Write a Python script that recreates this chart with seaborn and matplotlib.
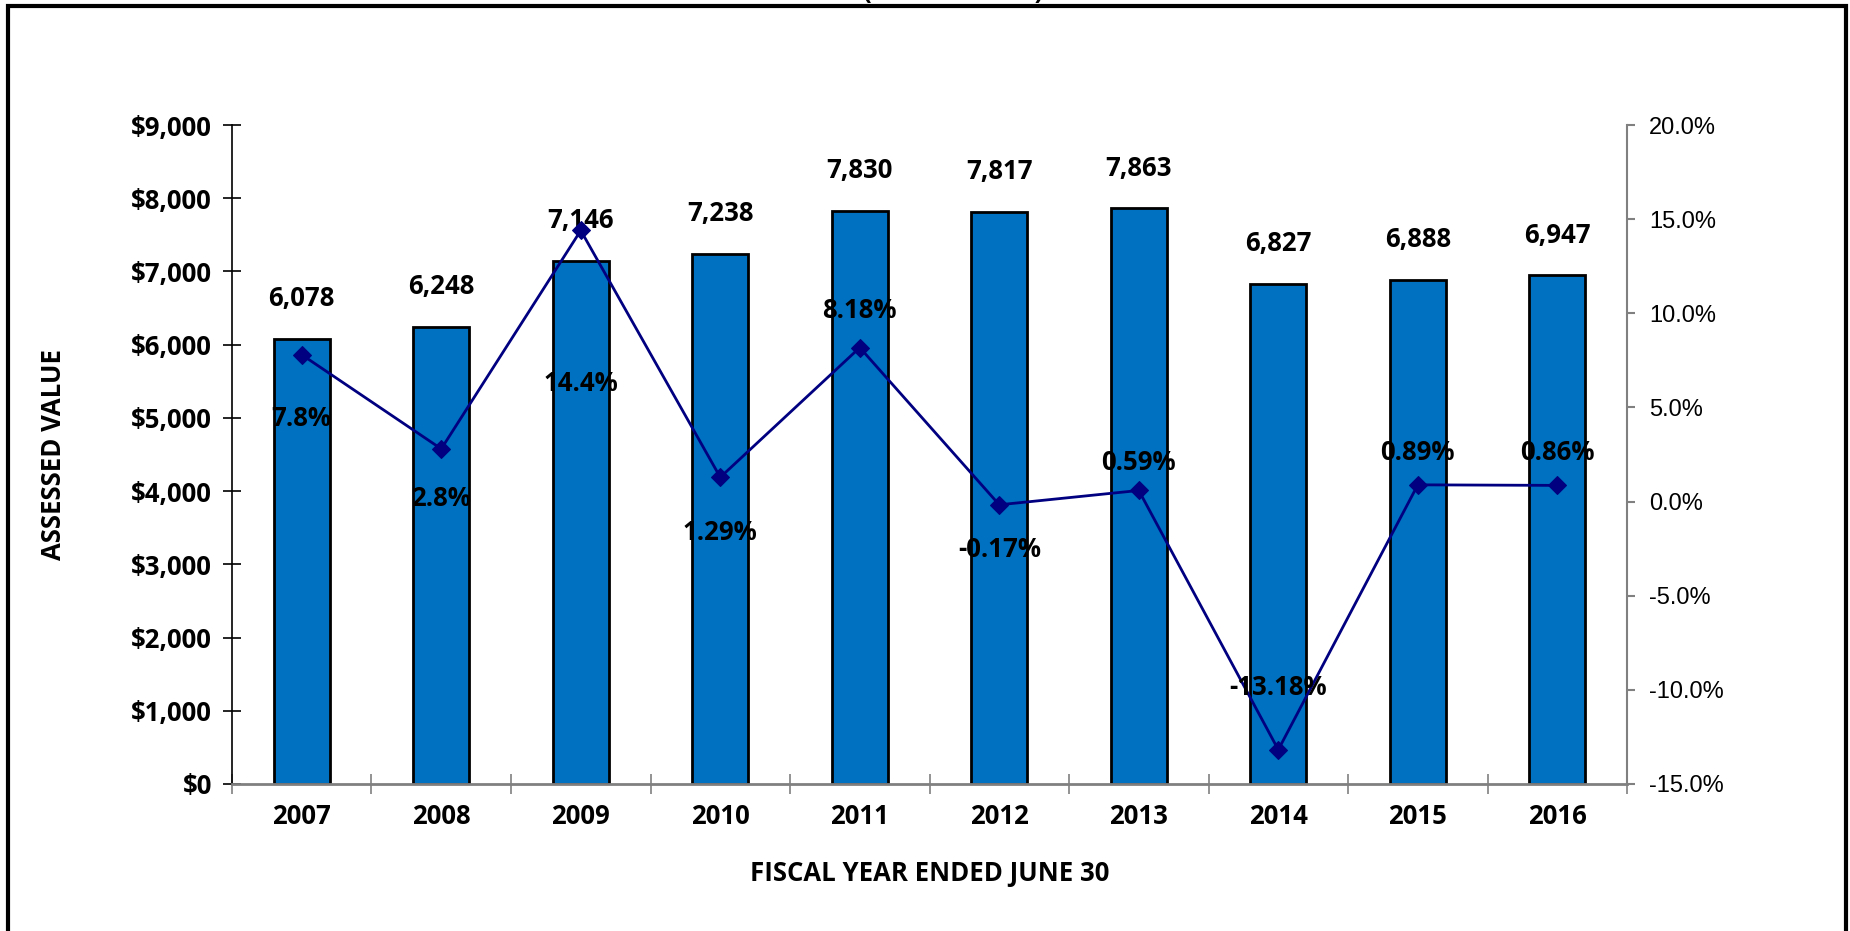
import numpy as np
import pandas as pd
import matplotlib
matplotlib.use("Agg")
import matplotlib.pyplot as plt
from matplotlib.patches import Rectangle
from matplotlib.ticker import FuncFormatter
import seaborn as sns

# Assessed value by fiscal year (in millions) and year-over-year change (%)
years = ["2007", "2008", "2009", "2010", "2011", "2012", "2013", "2014", "2015", "2016"]
assessed_value = [6078, 6248, 7146, 7238, 7830, 7817, 7863, 6827, 6888, 6947]
pct_change = [7.8, 2.8, 14.4, 1.29, 8.18, -0.17, 0.59, -13.18, 0.89, 0.86]
pct_labels = ["7.8%", "2.8%", "14.4%", "1.29%", "8.18%", "-0.17%", "0.59%", "-13.18%", "0.89%", "0.86%"]

# vertical placement of each percent label relative to its marker (points)
pct_label_offsets = [-46, -36, -110, -40, 27, -32, 20, 45, 23, 24]

sns.set_theme(style="white")
plt.rcParams["font.family"] = ["Open Sans", "DejaVu Sans"]
plt.rcParams.update({"text.color": "black", "axes.labelcolor": "black",
                     "xtick.color": "black", "ytick.color": "black"})

BAR_BLUE = "#0070C0"
LINE_NAVY = "#000080"
GRAY = "#808080"
FS = 18.5

fig = plt.figure(figsize=(18.5, 9.31), dpi=100)
ax = fig.add_axes([0.1254, 0.1579, 0.7541, 0.7078])

df = pd.DataFrame({"year": years, "value": assessed_value})
sns.barplot(data=df, x="year", y="value", ax=ax, color=BAR_BLUE, width=0.4,
            edgecolor="black", linewidth=2, saturation=1)

ax.set_xlim(-0.5, len(years) - 0.5)
ax.set_ylim(0, 9000)
ax.set_yticks(np.arange(0, 9001, 1000))
ax.yaxis.set_major_formatter(FuncFormatter(lambda v, _: f"${v:,.0f}"))

for s in ["top", "right"]:
    ax.spines[s].set_visible(False)
ax.spines["left"].set_color("black")
ax.spines["left"].set_linewidth(1.2)
ax.spines["bottom"].set_color(GRAY)
ax.spines["bottom"].set_linewidth(2)

ax.tick_params(axis="y", which="major", direction="inout", length=13, width=1.2,
               color="black", labelcolor="black", left=True, pad=8, labelsize=FS)
for lab in ax.get_yticklabels():
    lab.set_fontweight("bold")

ax.set_xticks(np.arange(len(years)))
ax.set_xticklabels(years, fontweight="bold", fontsize=FS)
ax.set_xticks(np.arange(-0.5, len(years), 1.0), minor=True)
ax.tick_params(axis="x", which="major", length=0, pad=14, labelcolor="black")
ax.tick_params(axis="x", which="minor", direction="inout", length=15, width=1.2,
               color=GRAY, bottom=True)

ax.set_xlabel("FISCAL YEAR ENDED JUNE 30", fontsize=FS, fontweight="bold", labelpad=21)
ax.set_ylabel("ASSESSED VALUE", fontsize=FS, fontweight="bold", labelpad=46)

# value labels above the bars
for i, v in enumerate(assessed_value):
    ax.annotate(f"{v:,}", (i, v), xytext=(0, 29), textcoords="offset points",
                ha="center", va="center", fontsize=FS, fontweight="bold")

# percent change on secondary axis
ax2 = ax.twinx()
sns.lineplot(x=np.arange(len(years)), y=pct_change, ax=ax2, color=LINE_NAVY,
             linewidth=2, marker="D", markersize=9, markeredgecolor=LINE_NAVY)
ax2.set_ylim(-15, 20)
ax2.set_xlim(-0.5, len(years) - 0.5)
ax2.set_yticks(np.arange(-15, 20.1, 5))
ax2.yaxis.set_major_formatter(FuncFormatter(lambda v, _: f"{v:.1f}%"))
for s in ["top", "left", "bottom"]:
    ax2.spines[s].set_visible(False)
ax2.spines["right"].set_color(GRAY)
ax2.spines["right"].set_linewidth(1.5)
ax2.tick_params(axis="y", direction="out", length=6, width=1.5, color=GRAY,
                labelcolor="black", right=True, pad=10, labelsize=17)
for lab in ax2.get_yticklabels():
    lab.set_fontfamily("Liberation Sans")
ax2.grid(False)
ax.grid(False)

for i, (p, txt, off) in enumerate(zip(pct_change, pct_labels, pct_label_offsets)):
    ax2.annotate(txt, (i, p), xytext=(0, off), textcoords="offset points",
                 ha="center", va="center", fontsize=FS, fontweight="bold")

# heading, mostly above the frame
fig.text(0.515, 1 + 2 / 931, "(IN MILLIONS)", ha="center", va="baseline",
         fontsize=FS, fontweight="bold")

# outer frame
fig.patches.append(Rectangle((8 / 1850, -0.05), (1846 - 8) / 1850, 1 - 6 / 931 + 0.05,
                             transform=fig.transFigure, fill=False,
                             edgecolor="black", linewidth=3, zorder=10))

fig.savefig("out.png", dpi=100)
